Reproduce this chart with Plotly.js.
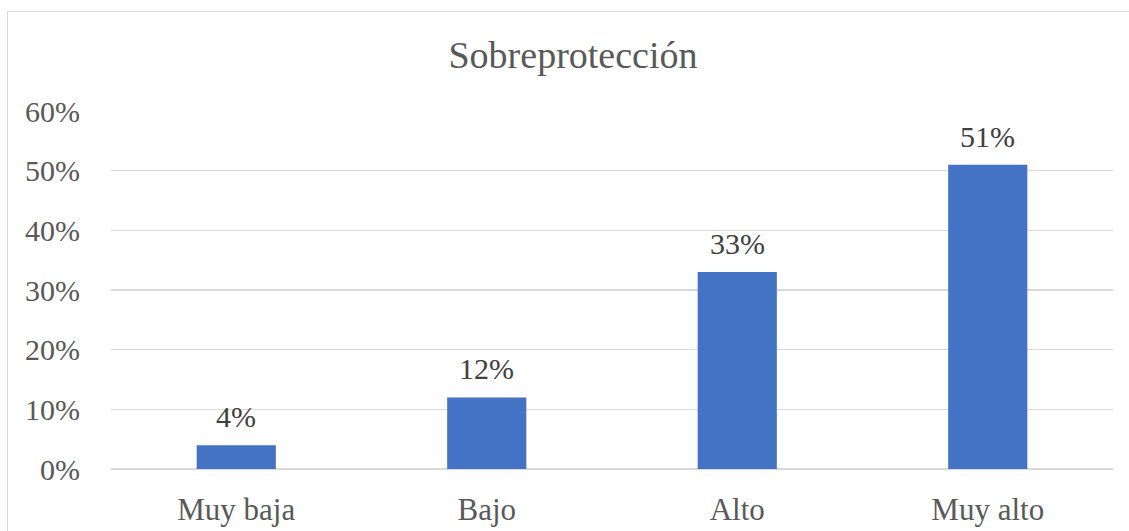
<!DOCTYPE html>
<html>
<head>
<meta charset="utf-8">
<script src="https://cdn.plot.ly/plotly-3.0.1.min.js"></script>
<style>
  html, body { margin: 0; padding: 0; background: #ffffff; }
  #wrap { position: relative; width: 1129px; height: 531px; overflow: hidden; }
  #frame { position: absolute; left: 7px; top: 11px; width: 1140px; height: 540px;
           border: 1px solid #d9d9d9; box-sizing: border-box; }
  #chart { position: absolute; left: 0; top: 0; width: 1129px; height: 531px; }
</style>
</head>
<body>
<div id="wrap">
  <div id="frame"></div>
  <div id="chart"></div>
</div>
<script>
const categories = ["Muy baja", "Bajo", "Alto", "Muy alto"];
const values = [0.04, 0.12, 0.33, 0.51];
const labels = ["4%", "12%", "33%", "51%"];
const tickValues = [0, 0.1, 0.2, 0.3, 0.4, 0.5, 0.6];
const tickLabels = ["0%", "10%", "20%", "30%", "40%", "50%", "60%"];
const chartTitle = "Sobreprotección";

const serif = "'Liberation Serif', 'Times New Roman', serif";

const labelAnnotations = categories.map((c, i) => ({
  x: c,
  y: values[i],
  xref: "x",
  yref: "y",
  text: labels[i],
  showarrow: false,
  xanchor: "center",
  yanchor: "bottom",
  yshift: 10,
  font: { family: serif, size: 30, color: "#404040" }
}));

Plotly.newPlot("chart", [{
  type: "bar",
  x: categories,
  y: values,
  marker: { color: "#4472c4" },
  hoverinfo: "skip"
}], {
  width: 1129,
  height: 531,
  margin: { l: 111, r: 16, t: 111, b: 62 },
  paper_bgcolor: "rgba(0,0,0,0)",
  plot_bgcolor: "rgba(0,0,0,0)",
  bargap: 0.684,
  showlegend: false,
  annotations: labelAnnotations,
  title: {
    text: chartTitle,
    font: { family: serif, size: 38, color: "#595959" },
    x: 573 / 1129, xanchor: "center",
    y: 1 - 55 / 531, yanchor: "middle"
  },
  xaxis: {
    type: "category",
    showgrid: false,
    showline: false,
    zeroline: false,
    ticks: "outside",
    ticklen: 13,
    tickcolor: "rgba(0,0,0,0)",
    tickfont: { family: serif, size: 31, color: "#595959" },
    fixedrange: true
  },
  yaxis: {
    range: [0, 0.6],
    tickvals: tickValues,
    ticktext: tickLabels,
    showgrid: true,
    gridcolor: "#d9d9d9",
    gridwidth: 1.5,
    zeroline: true,
    zerolinecolor: "#d9d9d9",
    zerolinewidth: 1.5,
    showline: false,
    ticks: "outside",
    ticklen: 24,
    tickcolor: "rgba(0,0,0,0)",
    tickfont: { family: serif, size: 30, color: "#595959" },
    fixedrange: true
  }
}, { displayModeBar: false, staticPlot: true });
</script>
</body>
</html>
